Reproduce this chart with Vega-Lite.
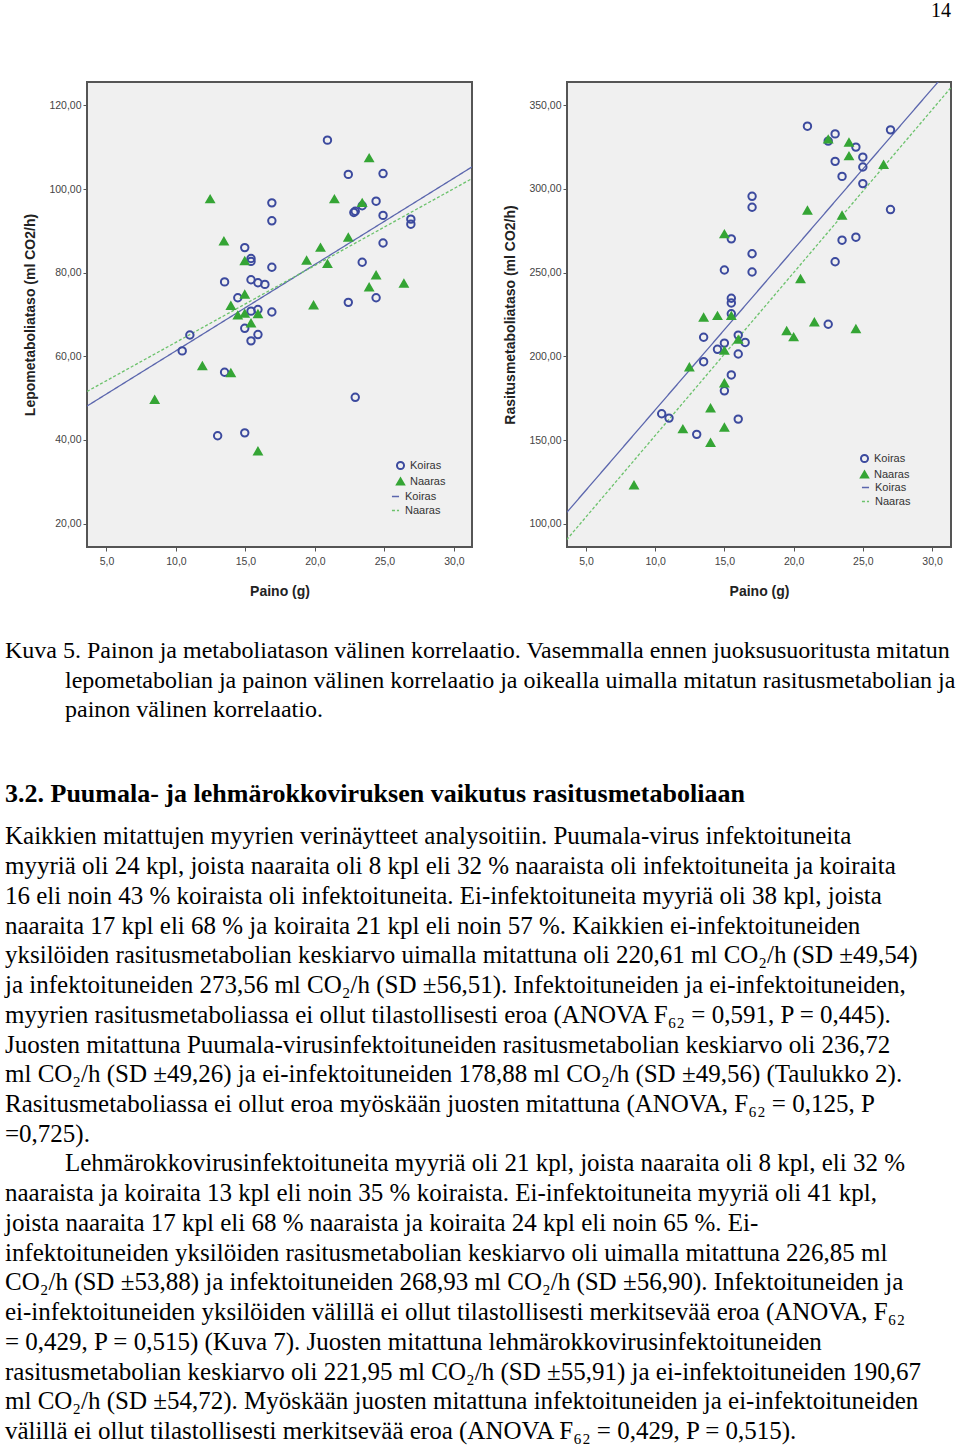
{
  "$schema": "https://vega.github.io/schema/vega-lite/v6.json",
  "padding": {"left": 5, "top": 0, "right": 0, "bottom": 0},
  "background": "white",
  "spacing": 38,
  "config": {
    "axis": {"labelFont": "Liberation Sans", "labelFontSize": 10.5, "labelColor": "#444", "titleFont": "Liberation Sans", "titleFontSize": 14, "titleFontWeight": "bold", "titleColor": "#222", "domain": false, "grid": false, "tickColor": "#555", "tickSize": 4, "labelPadding": 2},
    "legend": {"labelFont": "Liberation Sans", "labelFontSize": 11, "labelColor": "#333", "symbolSize": 50, "symbolStrokeWidth": 2, "rowPadding": 2, "padding": 0, "titlePadding": 0, "labelOffset": 4},
    "title": {"font": "Liberation Serif", "fontSize": 20, "fontWeight": "normal", "color": "#000", "anchor": "end", "frame": "group", "offset": 61}
  },
  "datasets": {
    "lepo": [
      {"Paino": 20.9, "Metabolia": 111.7, "Sukupuoli": "Koiras"},
      {"Paino": 22.4, "Metabolia": 103.5, "Sukupuoli": "Koiras"},
      {"Paino": 24.9, "Metabolia": 103.7, "Sukupuoli": "Koiras"},
      {"Paino": 24.4, "Metabolia": 97.1, "Sukupuoli": "Koiras"},
      {"Paino": 23.4, "Metabolia": 96.0, "Sukupuoli": "Koiras"},
      {"Paino": 22.9, "Metabolia": 94.7, "Sukupuoli": "Koiras"},
      {"Paino": 22.8, "Metabolia": 94.4, "Sukupuoli": "Koiras"},
      {"Paino": 24.9, "Metabolia": 93.7, "Sukupuoli": "Koiras"},
      {"Paino": 26.9, "Metabolia": 92.8, "Sukupuoli": "Koiras"},
      {"Paino": 26.9, "Metabolia": 91.6, "Sukupuoli": "Koiras"},
      {"Paino": 24.9, "Metabolia": 87.1, "Sukupuoli": "Koiras"},
      {"Paino": 23.4, "Metabolia": 82.5, "Sukupuoli": "Koiras"},
      {"Paino": 24.4, "Metabolia": 74.0, "Sukupuoli": "Koiras"},
      {"Paino": 22.4, "Metabolia": 72.9, "Sukupuoli": "Koiras"},
      {"Paino": 16.9, "Metabolia": 96.7, "Sukupuoli": "Koiras"},
      {"Paino": 16.9, "Metabolia": 92.4, "Sukupuoli": "Koiras"},
      {"Paino": 16.9, "Metabolia": 81.3, "Sukupuoli": "Koiras"},
      {"Paino": 16.9, "Metabolia": 70.6, "Sukupuoli": "Koiras"},
      {"Paino": 14.95, "Metabolia": 86.0, "Sukupuoli": "Koiras"},
      {"Paino": 15.4, "Metabolia": 83.4, "Sukupuoli": "Koiras"},
      {"Paino": 15.4, "Metabolia": 82.7, "Sukupuoli": "Koiras"},
      {"Paino": 13.5, "Metabolia": 77.8, "Sukupuoli": "Koiras"},
      {"Paino": 15.4, "Metabolia": 78.3, "Sukupuoli": "Koiras"},
      {"Paino": 15.9, "Metabolia": 77.6, "Sukupuoli": "Koiras"},
      {"Paino": 16.4, "Metabolia": 77.2, "Sukupuoli": "Koiras"},
      {"Paino": 14.45, "Metabolia": 74.0, "Sukupuoli": "Koiras"},
      {"Paino": 15.4, "Metabolia": 70.8, "Sukupuoli": "Koiras"},
      {"Paino": 15.9, "Metabolia": 71.2, "Sukupuoli": "Koiras"},
      {"Paino": 14.95, "Metabolia": 66.7, "Sukupuoli": "Koiras"},
      {"Paino": 11.0, "Metabolia": 65.1, "Sukupuoli": "Koiras"},
      {"Paino": 15.9, "Metabolia": 65.2, "Sukupuoli": "Koiras"},
      {"Paino": 15.4, "Metabolia": 63.7, "Sukupuoli": "Koiras"},
      {"Paino": 10.45, "Metabolia": 61.3, "Sukupuoli": "Koiras"},
      {"Paino": 13.5, "Metabolia": 56.2, "Sukupuoli": "Koiras"},
      {"Paino": 22.9, "Metabolia": 50.2, "Sukupuoli": "Koiras"},
      {"Paino": 13.0, "Metabolia": 41.0, "Sukupuoli": "Koiras"},
      {"Paino": 14.95, "Metabolia": 41.7, "Sukupuoli": "Koiras"},
      {"Paino": 23.9, "Metabolia": 107.4, "Sukupuoli": "Naaras"},
      {"Paino": 12.46, "Metabolia": 97.6, "Sukupuoli": "Naaras"},
      {"Paino": 21.4, "Metabolia": 97.6, "Sukupuoli": "Naaras"},
      {"Paino": 23.4, "Metabolia": 96.7, "Sukupuoli": "Naaras"},
      {"Paino": 13.45, "Metabolia": 87.5, "Sukupuoli": "Naaras"},
      {"Paino": 22.4, "Metabolia": 88.4, "Sukupuoli": "Naaras"},
      {"Paino": 20.4, "Metabolia": 86.0, "Sukupuoli": "Naaras"},
      {"Paino": 14.95, "Metabolia": 82.8, "Sukupuoli": "Naaras"},
      {"Paino": 19.4, "Metabolia": 82.9, "Sukupuoli": "Naaras"},
      {"Paino": 20.9, "Metabolia": 82.1, "Sukupuoli": "Naaras"},
      {"Paino": 24.4, "Metabolia": 79.4, "Sukupuoli": "Naaras"},
      {"Paino": 26.4, "Metabolia": 77.4, "Sukupuoli": "Naaras"},
      {"Paino": 23.9, "Metabolia": 76.5, "Sukupuoli": "Naaras"},
      {"Paino": 14.95, "Metabolia": 74.8, "Sukupuoli": "Naaras"},
      {"Paino": 13.95, "Metabolia": 72.1, "Sukupuoli": "Naaras"},
      {"Paino": 19.9, "Metabolia": 72.2, "Sukupuoli": "Naaras"},
      {"Paino": 14.45, "Metabolia": 69.8, "Sukupuoli": "Naaras"},
      {"Paino": 14.95, "Metabolia": 70.2, "Sukupuoli": "Naaras"},
      {"Paino": 15.9, "Metabolia": 70.1, "Sukupuoli": "Naaras"},
      {"Paino": 15.4, "Metabolia": 67.9, "Sukupuoli": "Naaras"},
      {"Paino": 11.9, "Metabolia": 57.7, "Sukupuoli": "Naaras"},
      {"Paino": 13.95, "Metabolia": 56.0, "Sukupuoli": "Naaras"},
      {"Paino": 8.47, "Metabolia": 49.6, "Sukupuoli": "Naaras"},
      {"Paino": 15.9, "Metabolia": 37.3, "Sukupuoli": "Naaras"}
    ],
    "lepoSovite": [
      {"Paino": 3.6, "Metabolia": 48.1, "Sovite": "Koiras"},
      {"Paino": 31.3, "Metabolia": 105.3, "Sovite": "Koiras"},
      {"Paino": 3.6, "Metabolia": 51.6, "Sovite": "Naaras"},
      {"Paino": 31.3, "Metabolia": 102.5, "Sovite": "Naaras"}
    ],
    "rasitus": [
      {"Paino": 21.0, "Metabolia": 337.5, "Sukupuoli": "Koiras"},
      {"Paino": 23.0, "Metabolia": 332.9, "Sukupuoli": "Koiras"},
      {"Paino": 22.5, "Metabolia": 328.6, "Sukupuoli": "Koiras"},
      {"Paino": 24.5, "Metabolia": 325.0, "Sukupuoli": "Koiras"},
      {"Paino": 27.0, "Metabolia": 335.3, "Sukupuoli": "Koiras"},
      {"Paino": 25.0, "Metabolia": 319.0, "Sukupuoli": "Koiras"},
      {"Paino": 23.0, "Metabolia": 316.5, "Sukupuoli": "Koiras"},
      {"Paino": 25.0, "Metabolia": 313.1, "Sukupuoli": "Koiras"},
      {"Paino": 23.5, "Metabolia": 307.5, "Sukupuoli": "Koiras"},
      {"Paino": 25.0, "Metabolia": 303.2, "Sukupuoli": "Koiras"},
      {"Paino": 27.0, "Metabolia": 287.7, "Sukupuoli": "Koiras"},
      {"Paino": 17.0, "Metabolia": 295.6, "Sukupuoli": "Koiras"},
      {"Paino": 17.0, "Metabolia": 289.1, "Sukupuoli": "Koiras"},
      {"Paino": 15.5, "Metabolia": 270.2, "Sukupuoli": "Koiras"},
      {"Paino": 24.5, "Metabolia": 271.2, "Sukupuoli": "Koiras"},
      {"Paino": 23.5, "Metabolia": 269.4, "Sukupuoli": "Koiras"},
      {"Paino": 17.0, "Metabolia": 261.3, "Sukupuoli": "Koiras"},
      {"Paino": 23.0, "Metabolia": 256.5, "Sukupuoli": "Koiras"},
      {"Paino": 15.0, "Metabolia": 251.6, "Sukupuoli": "Koiras"},
      {"Paino": 17.0, "Metabolia": 250.4, "Sukupuoli": "Koiras"},
      {"Paino": 15.5, "Metabolia": 234.7, "Sukupuoli": "Koiras"},
      {"Paino": 15.5, "Metabolia": 231.9, "Sukupuoli": "Koiras"},
      {"Paino": 15.5, "Metabolia": 225.4, "Sukupuoli": "Koiras"},
      {"Paino": 22.5, "Metabolia": 219.2, "Sukupuoli": "Koiras"},
      {"Paino": 13.5, "Metabolia": 211.4, "Sukupuoli": "Koiras"},
      {"Paino": 16.0, "Metabolia": 212.7, "Sukupuoli": "Koiras"},
      {"Paino": 15.0, "Metabolia": 207.9, "Sukupuoli": "Koiras"},
      {"Paino": 16.5, "Metabolia": 208.3, "Sukupuoli": "Koiras"},
      {"Paino": 14.5, "Metabolia": 204.2, "Sukupuoli": "Koiras"},
      {"Paino": 16.0, "Metabolia": 201.4, "Sukupuoli": "Koiras"},
      {"Paino": 13.5, "Metabolia": 196.8, "Sukupuoli": "Koiras"},
      {"Paino": 15.5, "Metabolia": 188.9, "Sukupuoli": "Koiras"},
      {"Paino": 15.0, "Metabolia": 179.4, "Sukupuoli": "Koiras"},
      {"Paino": 10.47, "Metabolia": 165.7, "Sukupuoli": "Koiras"},
      {"Paino": 11.0, "Metabolia": 163.1, "Sukupuoli": "Koiras"},
      {"Paino": 16.0, "Metabolia": 162.5, "Sukupuoli": "Koiras"},
      {"Paino": 13.0, "Metabolia": 153.4, "Sukupuoli": "Koiras"},
      {"Paino": 22.5, "Metabolia": 329.6, "Sukupuoli": "Naaras"},
      {"Paino": 24.0, "Metabolia": 327.8, "Sukupuoli": "Naaras"},
      {"Paino": 24.0, "Metabolia": 319.6, "Sukupuoli": "Naaras"},
      {"Paino": 26.5, "Metabolia": 314.5, "Sukupuoli": "Naaras"},
      {"Paino": 21.0, "Metabolia": 287.1, "Sukupuoli": "Naaras"},
      {"Paino": 23.5, "Metabolia": 284.1, "Sukupuoli": "Naaras"},
      {"Paino": 15.0, "Metabolia": 273.0, "Sukupuoli": "Naaras"},
      {"Paino": 20.5, "Metabolia": 246.2, "Sukupuoli": "Naaras"},
      {"Paino": 13.5, "Metabolia": 223.2, "Sukupuoli": "Naaras"},
      {"Paino": 14.5, "Metabolia": 224.2, "Sukupuoli": "Naaras"},
      {"Paino": 15.5, "Metabolia": 224.2, "Sukupuoli": "Naaras"},
      {"Paino": 21.5, "Metabolia": 220.4, "Sukupuoli": "Naaras"},
      {"Paino": 24.5, "Metabolia": 216.3, "Sukupuoli": "Naaras"},
      {"Paino": 19.5, "Metabolia": 215.1, "Sukupuoli": "Naaras"},
      {"Paino": 20.0, "Metabolia": 211.5, "Sukupuoli": "Naaras"},
      {"Paino": 16.0, "Metabolia": 210.0, "Sukupuoli": "Naaras"},
      {"Paino": 15.0, "Metabolia": 203.4, "Sukupuoli": "Naaras"},
      {"Paino": 12.47, "Metabolia": 193.5, "Sukupuoli": "Naaras"},
      {"Paino": 15.0, "Metabolia": 183.9, "Sukupuoli": "Naaras"},
      {"Paino": 14.0, "Metabolia": 169.0, "Sukupuoli": "Naaras"},
      {"Paino": 12.0, "Metabolia": 156.5, "Sukupuoli": "Naaras"},
      {"Paino": 15.0, "Metabolia": 157.5, "Sukupuoli": "Naaras"},
      {"Paino": 14.0, "Metabolia": 148.4, "Sukupuoli": "Naaras"},
      {"Paino": 8.47, "Metabolia": 123.0, "Sukupuoli": "Naaras"}
    ],
    "rasitusSovite": [
      {"Paino": 3.6, "Metabolia": 106.6, "Sovite": "Koiras"},
      {"Paino": 31.4, "Metabolia": 373.2, "Sovite": "Koiras"},
      {"Paino": 3.6, "Metabolia": 90.4, "Sovite": "Naaras"},
      {"Paino": 31.4, "Metabolia": 360.9, "Sovite": "Naaras"}
    ],
    "teksti": [
      {"rivi": 0, "osa": "kuva", "teksti": "Kuva 5. Painon ja metaboliatason välinen korrelaatio. Vasemmalla ennen juoksusuoritusta mitatun"},
      {"rivi": 1, "osa": "kuva", "teksti": "lepometabolian ja painon välinen korrelaatio ja oikealla uimalla mitatun rasitusmetabolian ja"},
      {"rivi": 2, "osa": "kuva", "teksti": "painon välinen korrelaatio."},
      {"rivi": 5, "osa": "otsikko", "teksti": "3.2. Puumala- ja lehmärokkoviruksen vaikutus rasitusmetaboliaan"},
      {"rivi": 6, "osa": "leipä", "teksti": "Kaikkien mitattujen myyrien verinäytteet analysoitiin. Puumala-virus infektoituneita"},
      {"rivi": 7, "osa": "leipä", "teksti": "myyriä oli 24 kpl, joista naaraita oli 8 kpl eli 32 % naaraista oli infektoituneita ja koiraita"},
      {"rivi": 8, "osa": "leipä", "teksti": "16 eli noin 43 % koiraista oli infektoituneita. Ei-infektoituneita myyriä oli 38 kpl, joista"},
      {"rivi": 9, "osa": "leipä", "teksti": "naaraita 17 kpl eli 68 % ja koiraita 21 kpl eli noin 57 %. Kaikkien ei-infektoituneiden"},
      {"rivi": 10, "osa": "leipä", "teksti": "yksilöiden rasitusmetabolian keskiarvo uimalla mitattuna oli 220,61 ml CO₂/h (SD ±49,54)"},
      {"rivi": 11, "osa": "leipä", "teksti": "ja infektoituneiden 273,56 ml CO₂/h (SD ±56,51). Infektoituneiden ja ei-infektoituneiden,"},
      {"rivi": 12, "osa": "leipä", "teksti": "myyrien rasitusmetaboliassa ei ollut tilastollisesti eroa (ANOVA F₆₂ = 0,591, P = 0,445)."},
      {"rivi": 13, "osa": "leipä", "teksti": "Juosten mitattuna Puumala-virusinfektoituneiden rasitusmetabolian keskiarvo oli 236,72"},
      {"rivi": 14, "osa": "leipä", "teksti": "ml CO₂/h (SD ±49,26) ja ei-infektoituneiden 178,88 ml CO₂/h (SD ±49,56) (Taulukko 2)."},
      {"rivi": 15, "osa": "leipä", "teksti": "Rasitusmetaboliassa ei ollut eroa myöskään juosten mitattuna (ANOVA, F₆₂ = 0,125, P"},
      {"rivi": 16, "osa": "leipä", "teksti": "=0,725)."},
      {"rivi": 17, "osa": "kappale", "teksti": "Lehmärokkovirusinfektoituneita myyriä oli 21 kpl, joista naaraita oli 8 kpl, eli 32 %"},
      {"rivi": 18, "osa": "leipä", "teksti": "naaraista ja koiraita 13 kpl eli noin 35 % koiraista. Ei-infektoituneita myyriä oli 41 kpl,"},
      {"rivi": 19, "osa": "leipä", "teksti": "joista naaraita 17 kpl eli 68 % naaraista ja koiraita 24 kpl eli noin 65 %. Ei-"},
      {"rivi": 20, "osa": "leipä", "teksti": "infektoituneiden yksilöiden rasitusmetabolian keskiarvo oli uimalla mitattuna 226,85 ml"},
      {"rivi": 21, "osa": "leipä", "teksti": "CO₂/h (SD ±53,88) ja infektoituneiden 268,93 ml CO₂/h (SD ±56,90). Infektoituneiden ja"},
      {"rivi": 22, "osa": "leipä", "teksti": "ei-infektoituneiden yksilöiden välillä ei ollut tilastollisesti merkitsevää eroa (ANOVA, F₆₂"},
      {"rivi": 23, "osa": "leipä", "teksti": "= 0,429, P = 0,515) (Kuva 7). Juosten mitattuna lehmärokkovirusinfektoituneiden"},
      {"rivi": 24, "osa": "leipä", "teksti": "rasitusmetabolian keskiarvo oli 221,95 ml CO₂/h (SD ±55,91) ja ei-infektoituneiden 190,67"},
      {"rivi": 25, "osa": "leipä", "teksti": "ml CO₂/h (SD ±54,72). Myöskään juosten mitattuna infektoituneiden ja ei-infektoituneiden"},
      {"rivi": 26, "osa": "leipä", "teksti": "välillä ei ollut tilastollisesti merkitsevää eroa (ANOVA F₆₂ = 0,429, P = 0,515)."}
    ]
  },
  "vconcat": [
    {
      "spacing": 29,
      "resolve": {"scale": {"shape": "independent", "stroke": "independent", "fill": "independent", "color": "independent", "strokeDash": "independent"}},
      "hconcat": [
        {
          "title": {"text": " "},
          "width": 385,
          "height": 465,
          "view": {"fill": "#f0f0f0", "stroke": "#555555", "strokeWidth": 2},
          "encoding": {
            "x": {"field": "Paino", "type": "quantitative", "scale": {"domain": [3.6, 31.3], "nice": false, "zero": false}, "axis": {"title": "Paino (g)", "values": [5, 10, 15, 20, 25, 30], "labelExpr": "replace(format(datum.value, '.1f'), '.', ',')", "labelPadding": 5, "titlePadding": 18}},
            "y": {"field": "Metabolia", "type": "quantitative", "scale": {"domain": [14.4, 125.6], "nice": false, "zero": false}, "axis": {"title": "Lepometaboliataso (ml CO2/h)", "values": [20, 40, 60, 80, 100, 120], "labelExpr": "replace(format(datum.value, '.2f'), '.', ',')", "minExtent": 39, "titlePadding": 11}}
          },
          "layer": [
            {
              "data": {"name": "lepoSovite"},
              "mark": {"type": "line", "clip": true, "strokeWidth": 1.3},
              "encoding": {
                "color": {"field": "Sovite", "type": "nominal", "scale": {"range": ["#5b66ad", "#6cc26c"]}, "legend": {"title": null, "orient": "bottom-right", "offset": 31, "symbolType": "stroke", "symbolStrokeWidth": 1.3}},
                "strokeDash": {"field": "Sovite", "type": "nominal", "scale": {"range": [[1, 0], [3, 2]]}, "legend": {"title": null, "orient": "bottom-right", "offset": 31, "symbolType": "stroke", "symbolStrokeWidth": 1.3}}
              }
            },
            {
              "data": {"name": "lepo"},
              "mark": {"type": "point", "size": 55, "strokeWidth": 2, "opacity": 1},
              "encoding": {
                "shape": {"field": "Sukupuoli", "type": "nominal", "scale": {"domain": ["Koiras", "Naaras"], "range": ["circle", "triangle-up"]}, "legend": {"title": null, "orient": "none", "legendX": 308, "legendY": 378, "rowPadding": 0}},
                "fill": {"field": "Sukupuoli", "type": "nominal", "scale": {"domain": ["Koiras", "Naaras"], "range": ["transparent", "#35a535"]}, "legend": {"title": null, "orient": "none", "legendX": 308, "legendY": 378, "rowPadding": 0}},
                "stroke": {"field": "Sukupuoli", "type": "nominal", "scale": {"domain": ["Koiras", "Naaras"], "range": ["#3c4a9e", "#35a535"]}, "legend": {"title": null, "orient": "none", "legendX": 308, "legendY": 378, "rowPadding": 0}}
              }
            }
          ]
        },
        {
          "title": {"text": "14"},
          "width": 384,
          "height": 465,
          "view": {"fill": "#f0f0f0", "stroke": "#555555", "strokeWidth": 2},
          "encoding": {
            "x": {"field": "Paino", "type": "quantitative", "scale": {"domain": [3.63, 31.37], "nice": false, "zero": false}, "axis": {"title": "Paino (g)", "values": [5, 10, 15, 20, 25, 30], "labelExpr": "replace(format(datum.value, '.1f'), '.', ',')", "labelPadding": 5, "titlePadding": 18}},
            "y": {"field": "Metabolia", "type": "quantitative", "scale": {"domain": [86.1, 363.9], "nice": false, "zero": false}, "axis": {"title": "Rasitusmetaboliataso (ml CO2/h)", "values": [100, 150, 200, 250, 300, 350], "labelExpr": "replace(format(datum.value, '.2f'), '.', ',')", "minExtent": 39, "titlePadding": 11}}
          },
          "layer": [
            {
              "data": {"name": "rasitusSovite"},
              "mark": {"type": "line", "clip": true, "strokeWidth": 1.3},
              "encoding": {
                "color": {"field": "Sovite", "type": "nominal", "scale": {"range": ["#5b66ad", "#6cc26c"]}, "legend": {"title": null, "orient": "bottom-right", "offset": 40, "symbolType": "stroke", "symbolStrokeWidth": 1.3}},
                "strokeDash": {"field": "Sovite", "type": "nominal", "scale": {"range": [[1, 0], [3, 2]]}, "legend": {"title": null, "orient": "bottom-right", "offset": 40, "symbolType": "stroke", "symbolStrokeWidth": 1.3}}
              }
            },
            {
              "data": {"name": "rasitus"},
              "mark": {"type": "point", "size": 55, "strokeWidth": 2, "opacity": 1},
              "encoding": {
                "shape": {"field": "Sukupuoli", "type": "nominal", "scale": {"domain": ["Koiras", "Naaras"], "range": ["circle", "triangle-up"]}, "legend": {"title": null, "orient": "none", "legendX": 292, "legendY": 371, "rowPadding": 0}},
                "fill": {"field": "Sukupuoli", "type": "nominal", "scale": {"domain": ["Koiras", "Naaras"], "range": ["transparent", "#35a535"]}, "legend": {"title": null, "orient": "none", "legendX": 292, "legendY": 371, "rowPadding": 0}},
                "stroke": {"field": "Sukupuoli", "type": "nominal", "scale": {"domain": ["Koiras", "Naaras"], "range": ["#3c4a9e", "#35a535"]}, "legend": {"title": null, "orient": "none", "legendX": 292, "legendY": 371, "rowPadding": 0}}
              }
            }
          ]
        }
      ]
    },
    {
      "width": 860,
      "height": 803,
      "view": {"stroke": null},
      "data": {"name": "teksti"},
      "encoding": {
        "x": {"datum": 0, "type": "quantitative", "scale": {"domain": [0, 1]}, "axis": null},
        "y": {"field": "rivi", "type": "ordinal", "scale": {"domain": [0, 1, 2, 3, 4, 5, 6, 7, 8, 9, 10, 11, 12, 13, 14, 15, 16, 17, 18, 19, 20, 21, 22, 23, 24, 25, 26], "paddingInner": 0, "paddingOuter": 0}, "axis": null},
        "text": {"field": "teksti", "type": "nominal"}
      },
      "layer": [
        {"transform": [{"filter": "datum.osa == 'kuva' && datum.rivi == 0"}], "mark": {"type": "text", "align": "left", "baseline": "middle", "font": "Liberation Serif", "fontSize": 24, "color": "#000", "dx": -82, "dy": -7}},
        {"transform": [{"filter": "datum.osa == 'kuva' && datum.rivi > 0"}], "mark": {"type": "text", "align": "left", "baseline": "middle", "font": "Liberation Serif", "fontSize": 24, "color": "#000", "dx": -22, "dy": -7}},
        {"transform": [{"filter": "datum.osa == 'otsikko'"}], "mark": {"type": "text", "align": "left", "baseline": "middle", "font": "Liberation Serif", "fontSize": 26, "fontWeight": "bold", "color": "#000", "dx": -82, "dy": -13}},
        {"transform": [{"filter": "datum.osa == 'leipä'"}], "mark": {"type": "text", "align": "left", "baseline": "middle", "font": "Liberation Serif", "fontSize": 25, "color": "#000", "dx": -82}},
        {"transform": [{"filter": "datum.osa == 'kappale'"}], "mark": {"type": "text", "align": "left", "baseline": "middle", "font": "Liberation Serif", "fontSize": 25, "color": "#000", "dx": -22}}
      ]
    }
  ]
}
